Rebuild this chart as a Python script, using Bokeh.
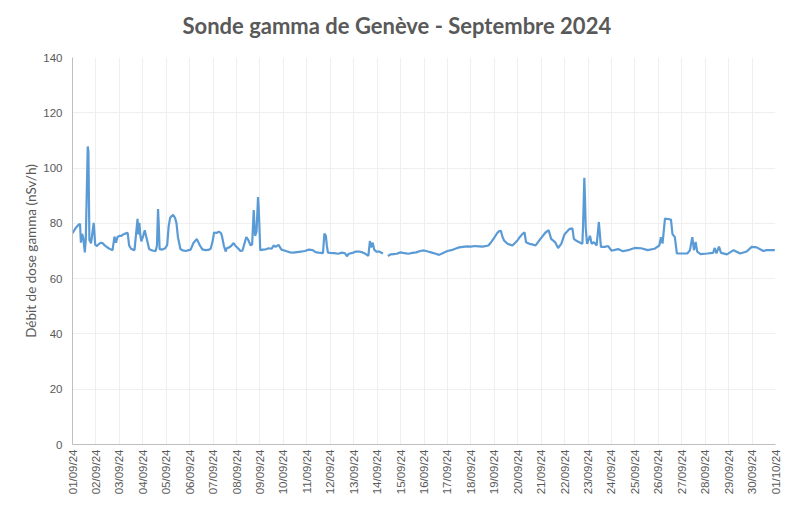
import math
from bokeh.plotting import figure
from bokeh.models import FixedTicker, ColumnDataSource, Range1d, Title
from bokeh.embed import file_html
from bokeh.resources import INLINE

NAN = float("nan")

title_text = "Sonde gamma de Genève - Septembre 2024"
y_label = "Débit de dose gamma (nSv/h)"

tick_labels = ["01/09/24", "02/09/24", "03/09/24", "04/09/24", "05/09/24", "06/09/24",
               "07/09/24", "08/09/24", "09/09/24", "10/09/24", "11/09/24", "12/09/24",
               "13/09/24", "14/09/24", "15/09/24", "16/09/24", "17/09/24", "18/09/24",
               "19/09/24", "20/09/24", "21/09/24", "22/09/24", "23/09/24", "24/09/24",
               "25/09/24", "26/09/24", "27/09/24", "28/09/24", "29/09/24", "30/09/24",
               "01/10/24"]

# hours since 01/09/24 00:00
hours = [0, 3, 6, 7.7, 8.6, 9.8, 11, 12.6, 13.6, 15.6, 16.3, 17.3, 19, 21.7, 23.3,
         25, 27, 29, 31, 33, 35, 37, 39, 41, 43, 44.5, 46, 48,
         50, 52, 54, 56.5, 58, 60, 62, 63.5, 66.6, 67.5, 68.5, 69.5, 70.5, 72,
         74, 75, 78.5, 80, 82, 85, 86.5, 87.6, 88.3, 89.2, 92, 95,
         97, 98.5, 100, 103, 105, 106.5, 108, 110.5, 113, 116, 119,
         121, 124, 127.4, 130.5, 133, 136, 139, 141.5, 143.5,
         145, 147.5, 150, 152, 153, 155, 156.8, 158, 160, 162.5, 165, 167,
         170, 172, 174, 178, 180, 182.5, 184, 185.6, 187, 188.5, 190, 190.8, 192.3,
         195, 198, 201, 204, 206, 208, 211, 214, 217,
         220, 223, 226, 230, 234, 238, 242, 246,
         249, 252, 256.5, 258, 259.5, 260.5, 261.6, 264,
         268, 272, 276, 279, 281, 283, 287, 290,
         293.7, 297, 300, 303, 304.6, 305.8, 307.5, 309, 311,
         314, 318, 320, 323, 326, 329, 332, 336,
         340, 344, 348, 352, 356, 360,
         364, 368, 372, 375.5, 379, 384,
         388, 392, 396, 400, 404, 408,
         412, 416, 420, 426, 429, 432,
         435, 437, 438.7, 440.5, 442, 445.5, 450.6, 455.7,
         458, 460.7, 463, 464.5, 468, 470.8, 474.3, 479.3,
         484.4, 487.7, 490.2, 494.5, 497.3, 500.6, 504,
         508.7, 512, 513.5, 516.5, 522.2, 522.9, 524.2, 524.8, 525.6, 527,
         530, 531.7, 534, 536.8, 539.1, 541.2, 545.2, 548.6, 552,
         558.7, 563.8, 568.9, 575.7,
         582.4, 589.1, 596, 601, 602.7, 604.3, 606.8, 612.9, 614.5, 616.9, 619,
         623, 629.7, 632.4, 634.8, 636.5, 638.2, 639.8, 643.3,
         650, 656.1, 657.8, 659.5, 662.1, 664.2, 670.3,
         677, 683.8, 690.5, 695.6, 700.7, 707.5, 710.8, 719.3]

dose = [76.4, 78.2, 79.4, 79.8, 73.0, 76.2, 74.8, 69.5, 74.0, 107.8, 106.0, 74.0, 72.8, 80.2, 72.2,
        71.8, 72.5, 73.0, 72.8, 72.0, 71.5, 71.0, 70.6, 70.3, 75.2, 73.0, 75.0, 75.5,
        75.5, 76.0, 76.3, 76.6, 72.0, 70.8, 70.5, 70.3, 81.6, 76.0, 80.2, 75.7, 73.5, 75.0,
        77.5, 76.0, 70.7, 70.4, 70.2, 69.9, 72.0, 85.2, 80.0, 70.7, 70.5, 71.0,
        72.2, 79.0, 82.0, 83.1, 82.0, 80.0, 75.0, 70.7, 70.2, 70.0, 70.3,
        70.5, 73.0, 74.3, 72.0, 70.6, 70.3, 70.4, 70.8, 73.5,
        76.7, 76.5, 77.0, 76.5, 75.5, 72.0, 69.8, 71.0, 71.2, 71.8, 72.9, 71.8,
        70.8, 70.0, 70.1, 75.0, 74.0, 72.0, 72.5, 84.8, 75.5, 77.0, 89.5, 85.0, 70.3,
        70.5, 70.6, 71.0, 70.8, 72.0, 71.5, 72.2, 70.5, 70.2,
        69.8, 69.5, 69.4, 69.6, 69.8, 70.0, 70.5, 70.3,
        69.6, 69.4, 69.2, 76.3, 75.5, 72.0, 69.4, 69.3,
        69.2, 69.0, 69.4, 69.2, 68.1, 69.0, 69.3, 69.8,
        69.8, 69.5, 69.0, 68.2, 73.6, 71.3, 73.0, 70.5, 69.8,
        69.8, 69.1, NAN, 68.2, 68.8, 68.9, 69.0, 69.5,
        69.2, 69.0, 69.3, 69.5, 70.0, 70.2,
        69.8, 69.4, 69.0, 68.6, 69.2, 70.0,
        70.3, 70.8, 71.3, 71.5, 71.7, 71.6,
        71.8, 71.7, 71.6, 72.0, 73.3, 74.8,
        76.5, 77.2, 77.3, 75.0, 73.8, 72.6, 72.0, 73.8,
        75.0, 76.1, 76.7, 73.2, 72.6, 72.4, 72.0, 74.4,
        76.7, 77.5, 74.4, 73.1, 71.1, 72.6, 76.1,
        77.9, 78.2, 74.4, 73.6, 72.6, 79.0, 96.5, 90.0, 78.6, 72.6,
        75.5, 72.6, 73.2, 72.0, 80.5, 71.5, 71.5, 71.8, 70.1,
        70.7, 69.9, 70.3, 71.1,
        71.0, 70.3, 70.8, 72.0, 75.0, 72.7, 81.7, 81.4, 76.1, 75.0, 69.1,
        69.1, 69.1, 70.3, 75.0, 70.3, 73.3, 69.8, 68.9,
        69.1, 69.3, 71.1, 69.1, 71.6, 69.3, 68.8,
        70.3, 69.1, 69.8, 71.5, 71.3, 70.0, 70.3, 70.3]

y_ticks = [0, 20, 40, 60, 80, 100, 120, 140]

src = ColumnDataSource(data=dict(x=hours, y=dose))

p = figure(width=781, height=500, output_backend="svg", toolbar_location=None,
           x_range=Range1d(0, 720), y_range=Range1d(0, 140),
           min_border_left=72, min_border_right=6, min_border_top=57, min_border_bottom=56)

# thin spacer between the frame and the title
p.add_layout(Title(text=" ", text_font_size="1px", standoff=4), "above")

p.title.text = title_text
p.title.align = "left"
p.title.offset = 110
p.title.vertical_align = "top"
p.title.text_font = "Lato"
p.title.text_font_size = "22px"
p.title.text_font_style = "bold"
p.title.text_color = "#595959"
p.title.standoff = 20

p.line("x", "y", source=src, line_color="#5B9BD5", line_width=2.2)

p.xaxis.ticker = FixedTicker(ticks=[24 * i for i in range(len(tick_labels))])
p.xaxis.major_label_overrides = {24 * i: lab for i, lab in enumerate(tick_labels)}
p.xaxis.major_label_orientation = math.pi / 2
p.yaxis.ticker = FixedTicker(ticks=y_ticks)
p.yaxis.axis_label = y_label

for ax in (p.xaxis, p.yaxis):
    ax.major_tick_line_color = None
    ax.minor_tick_line_color = None
    ax.major_tick_out = 0
    ax.major_tick_in = 0
    ax.minor_tick_out = 0
    ax.axis_line_color = "#BFBFBF"
    ax.major_label_text_color = "#595959"
    ax.major_label_text_font = "Liberation Sans"
    ax.major_label_text_font_size = "11.5px"
p.xaxis.major_label_standoff = 5
p.yaxis.major_label_standoff = 10
p.yaxis.axis_label_text_font = "Lato"
p.yaxis.axis_label_text_font_size = "13.5px"
p.yaxis.axis_label_text_font_style = "normal"
p.yaxis.axis_label_text_color = "#595959"
p.yaxis.axis_label_standoff = 1

p.xgrid.grid_line_color = "#EFEFEF"
p.ygrid.grid_line_color = "#EFEFEF"
p.outline_line_color = None
p.background_fill_color = "white"
p.border_fill_color = "white"

open("out.html", "w").write(file_html(p, INLINE))
